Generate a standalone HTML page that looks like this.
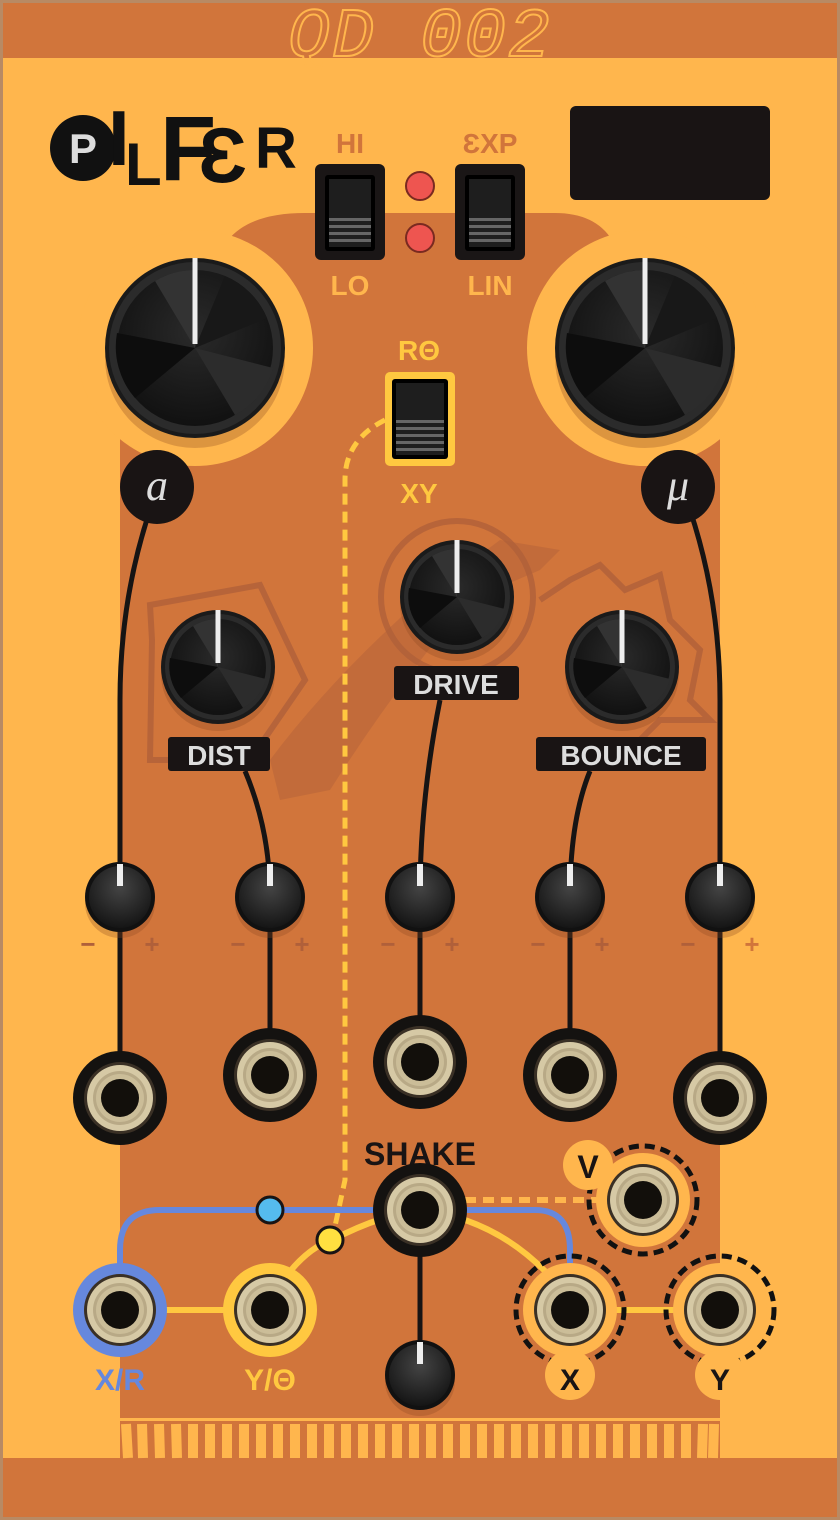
<!DOCTYPE html>
<html><head><meta charset="utf-8"><style>
html,body{margin:0;padding:0;background:#fff}
svg{display:block}
text{font-family:"Liberation Sans","DejaVu Sans",sans-serif;font-weight:bold}
</style></head><body>
<svg width="840" height="1520" viewBox="0 0 840 1520" xmlns="http://www.w3.org/2000/svg">
<defs>
<radialGradient id="kb" cx="50%" cy="40%" r="60%"><stop offset="0" stop-color="#2a2a2a"/><stop offset="1" stop-color="#111"/></radialGradient>
<radialGradient id="sk" cx="50%" cy="35%" r="65%"><stop offset="0" stop-color="#444"/><stop offset="1" stop-color="#151515"/></radialGradient>
<g id="bigknob">
<circle r="90" fill="#8a4a20" opacity="0.3" transform="translate(0,10)"/>
<circle r="90" fill="#1a1a1a"/>
<circle r="86" fill="#2b2b2b"/>
<circle r="78" fill="url(#kb)"/>
<path d="M0 0 L-40 -67 A78 78 0 0 1 0 -78Z" fill="#333"/>
<path d="M0 0 L78 20 A78 78 0 0 1 40 67Z" fill="#2c2c2c"/>
<path d="M0 0 L-78 -15 A78 78 0 0 0 -60 50Z" fill="#0d0d0d"/>
<path d="M0 0 L30 -72 A78 78 0 0 1 72 -30Z" fill="#181818"/>
<rect x="-2.5" y="-90" width="5" height="86" fill="#eee"/>
</g>
<g id="medknob">
<circle r="57" fill="#8a4a20" opacity="0.3" transform="translate(0,7)"/>
<circle r="57" fill="#1a1a1a"/>
<circle r="53" fill="#2b2b2b"/>
<circle r="48" fill="url(#kb)"/>
<path d="M0 0 L-25 -41 A48 48 0 0 1 0 -48Z" fill="#333"/>
<path d="M0 0 L48 12 A48 48 0 0 1 25 41Z" fill="#2c2c2c"/>
<path d="M0 0 L-48 -9 A48 48 0 0 0 -37 31Z" fill="#0d0d0d"/>
<rect x="-2.5" y="-57" width="5" height="53" fill="#eee"/>
</g>
<g id="smknob">
<circle r="35" fill="#8a4a20" opacity="0.3" transform="translate(0,6)"/>
<circle r="35" fill="#111"/>
<circle r="31" fill="url(#sk)"/>
<rect x="-3" y="-33" width="6" height="22" fill="#eee"/>
</g>
<g id="jack">
<circle r="47" fill="#141210"/>
<circle r="36" fill="#3a3025"/>
<circle r="33" fill="#d6c9a5"/>
<circle r="27" fill="#b8a986"/>
<circle r="24" fill="#cbbd98"/>
<circle r="19" fill="#120f0b"/>
</g>
<g id="jack2">
<circle r="36" fill="#3a3025"/>
<circle r="33" fill="#d6c9a5"/>
<circle r="27" fill="#b8a986"/>
<circle r="24" fill="#cbbd98"/>
<circle r="19" fill="#120f0b"/>
</g>
<g id="sw">
<rect x="-35" y="-48" width="70" height="96" rx="6" fill="#1a1616"/>
<rect x="-25" y="-37" width="50" height="76" rx="3" fill="#000"/>
<rect x="-21" y="-33" width="42" height="68" fill="#1e1e1e"/>
<g fill="#666"><rect x="-21" y="6" width="42" height="3"/><rect x="-21" y="13" width="42" height="3"/><rect x="-21" y="20" width="42" height="3"/><rect x="-21" y="27" width="42" height="3"/></g>
</g>
</defs>

<!-- panel -->
<rect width="840" height="1520" fill="#b88a64"/>
<rect x="3" y="3" width="834" height="1514" fill="#FFB64D"/>
<rect x="3" y="3" width="834" height="55" fill="#D1753B"/>
<rect x="3" y="1458" width="834" height="59" fill="#D1753B"/>
<text x="420" y="56" text-anchor="middle" font-size="70" fill="none" stroke="#FFB64D" stroke-width="2" letter-spacing="2" style="font-family:'Liberation Mono',monospace;font-weight:normal;font-style:italic">QD 002</text>

<!-- dark region -->
<path d="M228 240 Q250 213 305 213 L555 213 Q595 213 612 240 L720 300 L720 1458 L120 1458 L120 300 Z" fill="#D1753B"/>
<circle cx="195" cy="348" r="118" fill="#FFB64D"/>
<circle cx="645" cy="348" r="118" fill="#FFB64D"/>
<!-- stripes -->
<rect x="120" y="1418" width="600" height="3" fill="#FFB64D"/>
<g stroke="#FFB64D" stroke-width="10">
<path d="M126 1424 L128 1458 M142 1424 L143 1458 M159 1424 L160 1458 M176 1424 L177 1458 M193 1424 L193 1458 M210 1424 L210 1458 M227 1424 L227 1458 M244 1424 L244 1458 M261 1424 L261 1458 M278 1424 L278 1458 M295 1424 L295 1458 M312 1424 L312 1458 M329 1424 L329 1458 M346 1424 L346 1458 M363 1424 L363 1458 M380 1424 L380 1458 M397 1424 L397 1458 M414 1424 L414 1458 M431 1424 L431 1458 M448 1424 L448 1458 M465 1424 L465 1458 M482 1424 L482 1458 M499 1424 L499 1458 M516 1424 L516 1458 M533 1424 L533 1458 M550 1424 L550 1458 M567 1424 L567 1458 M584 1424 L584 1458 M601 1424 L601 1458 M618 1424 L618 1458 M635 1424 L635 1458 M652 1424 L652 1458 M669 1424 L669 1458 M686 1424 L686 1458 M703 1424 L702 1458 M714 1424 L713 1458"/>
</g>

<!-- watermark shapes -->
<g fill="none" stroke="#B0603A" stroke-width="6" opacity="0.8">
<path d="M152 640 L150 605 L260 585 L305 680 L250 760 L150 760 Z"/>
<circle cx="457" cy="597" r="76"/>
<path d="M540 600 L570 580 L600 565 L625 590 L660 575 L670 620 L700 650 L690 700 L710 720 L660 720 L620 760"/>
</g>
<path d="M270 760 Q330 680 420 600 L500 540 L560 550 L540 570 L470 600 Q400 680 330 790 L280 800 Z" fill="#B0603A" opacity="0.45"/>

<!-- logo -->
<circle cx="83" cy="148" r="33" fill="#111"/>
<text x="83" y="163" text-anchor="middle" font-size="42" fill="#ddd">P</text>
<text x="108" y="165" font-size="78" font-family="Liberation Serif" fill="#111">I</text>
<text x="125" y="185" font-size="60" font-family="Liberation Serif" fill="#111">L</text>
<text x="160" y="180" font-size="92" fill="#111">F</text>
<text x="198" y="182" font-size="78" font-family="Liberation Serif" fill="#111">Ɛ</text>
<text x="255" y="168" font-size="58" fill="#111">R</text>
<rect x="570" y="106" width="200" height="94" rx="6" fill="#191414"/>

<!-- switches -->
<text x="350" y="153" text-anchor="middle" font-size="28" fill="#D1753B">HI</text>
<text x="490" y="153" text-anchor="middle" font-size="28" fill="#D1753B">ƐXP</text>
<use href="#sw" x="350" y="212"/>
<use href="#sw" x="490" y="212"/>
<circle cx="420" cy="186" r="14" fill="#ee5550" stroke="#7a2a20" stroke-width="2"/>
<circle cx="420" cy="238" r="14" fill="#ee5550" stroke="#7a2a20" stroke-width="2"/>
<text x="350" y="295" text-anchor="middle" font-size="28" fill="#FFB64D">LO</text>
<text x="490" y="295" text-anchor="middle" font-size="28" fill="#FFB64D">LIN</text>
<text x="419" y="360" text-anchor="middle" font-size="28" fill="#FFC840">RΘ</text>
<rect x="385" y="372" width="70" height="94" rx="5" fill="#FFC840"/>
<rect x="392" y="379" width="56" height="80" rx="3" fill="#000"/>
<rect x="396" y="383" width="48" height="72" fill="#1e1e1e"/>
<g fill="#666"><rect x="396" y="420" width="48" height="3"/><rect x="396" y="427" width="48" height="3"/><rect x="396" y="434" width="48" height="3"/><rect x="396" y="441" width="48" height="3"/><rect x="396" y="448" width="48" height="3"/></g>
<text x="419" y="503" text-anchor="middle" font-size="28" fill="#FFC840">XY</text>

<!-- dashed line -->
<path d="M385 420 Q345 440 345 480 L345 1180 L332 1240" fill="none" stroke="#FFC840" stroke-width="5" stroke-dasharray="11 7"/>

<!-- big knobs -->
<use href="#bigknob" x="195" y="348"/>
<use href="#bigknob" x="645" y="348"/>

<!-- cables -->
<g fill="none" stroke="#161414" stroke-width="5">
<path d="M150 510 Q120 600 120 700 L120 1098"/>
<path d="M690 510 Q720 600 720 700 L720 1098"/>
<path d="M245 771 Q270 830 270 897 L270 1075"/>
<path d="M440 700 Q420 800 420 897 L420 1062"/>
<path d="M590 771 Q570 820 570 897 L570 1075"/>
<path d="M420 1210 L420 1375"/>
</g>
<circle cx="157" cy="487" r="37" fill="#191414"/>
<text x="157" y="500" text-anchor="middle" font-size="44" fill="#ddd" style="font-family:'Liberation Serif',serif;font-weight:normal;font-style:italic">a</text>
<circle cx="678" cy="487" r="37" fill="#191414"/>
<text x="678" y="500" text-anchor="middle" font-size="44" fill="#ddd" style="font-family:'Liberation Serif',serif;font-weight:normal;font-style:italic">μ</text>

<!-- medium knobs -->
<use href="#medknob" x="218" y="667"/>
<use href="#medknob" x="457" y="597"/>
<use href="#medknob" x="622" y="667"/>
<rect x="168" y="737" width="102" height="34" rx="3" fill="#191414"/>
<text x="219" y="765" text-anchor="middle" font-size="28" fill="#ddd">DIST</text>
<rect x="394" y="666" width="125" height="34" rx="3" fill="#191414"/>
<text x="456" y="694" text-anchor="middle" font-size="28" fill="#ddd">DRIVE</text>
<rect x="536" y="737" width="170" height="34" rx="3" fill="#191414"/>
<text x="621" y="765" text-anchor="middle" font-size="28" fill="#ddd">BOUNCE</text>

<!-- small knobs -->
<g>
<use href="#smknob" x="120" y="897"/><use href="#smknob" x="270" y="897"/><use href="#smknob" x="420" y="897"/><use href="#smknob" x="570" y="897"/><use href="#smknob" x="720" y="897"/>
</g>
<g font-size="26" fill="#B0603A" text-anchor="middle">
<text x="88" y="953">−</text><text x="152" y="953">+</text>
<text x="238" y="953">−</text><text x="302" y="953">+</text>
<text x="388" y="953">−</text><text x="452" y="953">+</text>
<text x="538" y="953">−</text><text x="602" y="953">+</text>
<text x="688" y="953">−</text><text x="752" y="953" fill="#D1753B">+</text>
</g>

<!-- jacks -->
<use href="#jack" x="120" y="1098"/>
<use href="#jack" x="270" y="1075"/>
<use href="#jack" x="420" y="1062"/>
<use href="#jack" x="570" y="1075"/>
<use href="#jack" x="720" y="1098"/>

<!-- bottom routing -->
<path d="M120 1290 L120 1250 Q120 1210 160 1210 L535 1210 Q570 1210 570 1250 L570 1290" fill="none" stroke="#6688DD" stroke-width="6"/>
<path d="M270 1300 Q300 1250 332 1240 Q380 1215 420 1210 Q510 1220 570 1300" fill="none" stroke="#FFC840" stroke-width="6"/>
<path d="M120 1310 L270 1310 M570 1310 L720 1310" stroke="#FFC840" stroke-width="6"/>
<path d="M465 1200 L600 1200" stroke="#FFB64D" stroke-width="6" stroke-dasharray="11 7"/>
<circle cx="270" cy="1210" r="13" fill="#55BBEE" stroke="#191414" stroke-width="3"/>
<circle cx="330" cy="1240" r="13" fill="#FFE040" stroke="#191414" stroke-width="3"/>

<text x="420" y="1165" text-anchor="middle" font-size="32" fill="#191414">SHAKE</text>
<use href="#jack" x="420" y="1210"/>
<use href="#smknob" x="420" y="1375"/>

<circle cx="120" cy="1310" r="47" fill="#6688DD"/>
<use href="#jack2" x="120" y="1310"/>
<circle cx="270" cy="1310" r="47" fill="#FFC840"/>
<use href="#jack2" x="270" y="1310"/>

<circle cx="643" cy="1200" r="54" fill="none" stroke="#111" stroke-width="5" stroke-dasharray="10 6"/>
<circle cx="643" cy="1200" r="47" fill="#FFB64D"/>
<use href="#jack2" x="643" y="1200"/>
<circle cx="588" cy="1165" r="25" fill="#FFB64D"/>
<text x="588" y="1178" text-anchor="middle" font-size="32" fill="#191414">V</text>

<circle cx="570" cy="1310" r="54" fill="none" stroke="#111" stroke-width="5" stroke-dasharray="10 6"/>
<circle cx="570" cy="1310" r="47" fill="#FFB64D"/>
<use href="#jack2" x="570" y="1310"/>
<circle cx="720" cy="1310" r="54" fill="none" stroke="#111" stroke-width="5" stroke-dasharray="10 6"/>
<circle cx="720" cy="1310" r="47" fill="#FFB64D"/>
<use href="#jack2" x="720" y="1310"/>
<circle cx="570" cy="1375" r="25" fill="#FFB64D"/>
<circle cx="720" cy="1375" r="25" fill="#FFB64D"/>
<text x="570" y="1390" text-anchor="middle" font-size="30" fill="#191414">X</text>
<text x="720" y="1390" text-anchor="middle" font-size="30" fill="#191414">Y</text>
<text x="120" y="1390" text-anchor="middle" font-size="30" fill="#6688DD">X/R</text>
<text x="270" y="1390" text-anchor="middle" font-size="30" fill="#FFC840">Y/Θ</text>
</svg>
</body></html>
